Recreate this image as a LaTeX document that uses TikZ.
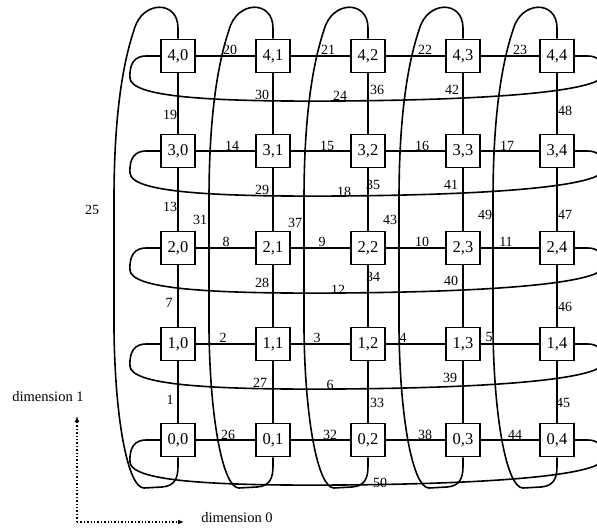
\documentclass[tikz,border=0pt]{standalone}
\usepackage{fontspec}
\setmainfont{Liberation Serif}
\usetikzlibrary{arrows.meta}
\begin{document}
\begin{tikzpicture}[x=1pt,y=-1pt,
  link/.style={line width=1.6pt},
  box/.style={draw, line width=1.9pt, fill=white, minimum width=34pt, minimum height=33pt, inner sep=0pt, font=\fontsize{16.5}{16.5}\selectfont},
  lbl/.style={inner sep=0pt, font=\fontsize{14}{14}\selectfont},
  dimtext/.style={inner sep=0pt, font=\fontsize{14.5}{14.5}\selectfont},
  dimarrow/.style={dotted, line width=1.4pt, -{Latex[length=6pt,width=5pt]}}
]
\useasboundingbox (0,0) rectangle (597,529);
% nodes
\foreach \r/\y in {0/440,1/344,2/248,3/151,4/56}
  \foreach \c/\x in {0/178,1/273,2/368,3/463,4/557}
    \node[box] (n\r\c) at (\x,\y) {\r,\c};
% dimension 0 links
\foreach \r in {0,...,4}
  \foreach \c/\d in {0/1,1/2,2/3,3/4}
    \draw[link] (n\r\c) -- (n\r\d);
% dimension 1 links
\foreach \c in {0,...,4}
  \foreach \r/\s in {0/1,1/2,2/3,3/4}
    \draw[link] (n\r\c) -- (n\s\c);
% row wraparounds
\foreach \r/\y in {0/440,1/344,2/248,3/151,4/56}
  \draw[link] (n\r4.east) -- (588,\y) .. controls (606,\y) and (610,\y+22) .. (592,\y+27)
    .. controls (560,\y+38) and (470,\y+44) .. (340,\y+45)
    .. controls (200,\y+46) and (131,\y+40) .. (130,\y+22)
    .. controls (129,\y+6) and (136,\y) .. (146,\y) -- (n\r0.west);
% column wraparounds
\foreach \c/\x in {0/178,1/273,2/368,3/463,4/557}
  \draw[link] (n4\c.north) -- (\x,28) .. controls (\x,0) and (\x-36,0) .. (\x-44,30)
    .. controls (\x-54,60) and (\x-64,110) .. (\x-64,200) -- (\x-64,330)
    .. controls (\x-63,420) and (\x-50,488) .. (\x-34,488) -- (\x-16,487)
    .. controls (\x-3,486) and (\x,478) .. (\x,466) -- (n0\c.south);
% link labels
\foreach \t/\x/\y in {20/230/50, 21/328/50, 22/425/50, 23/520/50, 24/340/96,
  30/262/95, 36/377/90, 42/452/90, 48/565/111, 19/170/115,
  14/232/146, 15/327/146, 16/422/146, 17/507/146, 18/344/192,
  13/170/207, 29/262/190, 35/373/185, 41/451/185, 47/565/215,
  25/92/210, 31/200/220, 37/295/223, 43/390/220, 49/485/215,
  8/226/242, 9/322/242, 10/422/242, 11/506/242, 12/338/290,
  7/169/303, 28/262/283, 34/373/277, 40/451/281, 46/565/307,
  2/223/338, 3/317/338, 4/403/338, 5/489/337, 6/330/385,
  1/170/400, 27/260/383, 33/377/403, 39/450/378, 45/563/403,
  26/228/435, 32/330/435, 38/425/435, 44/515/435, 50/380/483}
  \node[lbl] (l\t) at (\x,\y) {\t};
% dimension axes
\coordinate (orig) at (77,522);
\coordinate (d1) at (77,416);
\coordinate (d0) at (184,522);
\draw[dimarrow] (orig) -- (d1);
\draw[dimarrow] (orig) -- (d0);
\node[dimtext] (dim1) at (48,397) {dimension 1};
\node[dimtext] (dim0) at (237,518) {dimension 0};
\end{tikzpicture}
\end{document}
